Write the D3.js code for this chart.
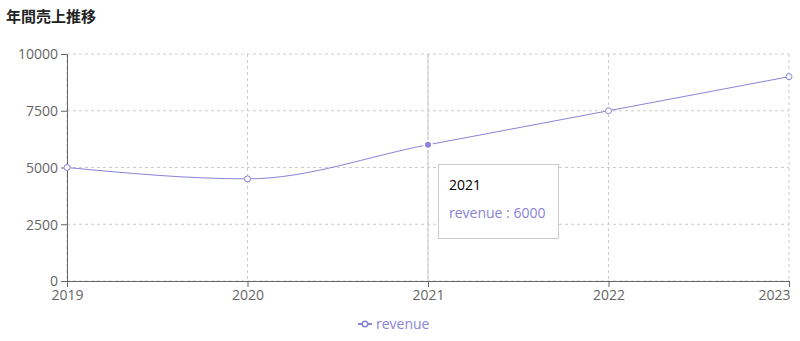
<!doctype html>
<html>
<head>
<meta charset="utf-8">
<title>年間売上推移</title>
<script src="https://cdn.jsdelivr.net/npm/d3@7"></script>
<style>
body { margin: 0; background: #fff; font-family: "Open Sans", "Noto Sans", sans-serif; }
#chart { position: relative; width: 800px; height: 341px; }
.title { position: absolute; left: 6px; top: 5px; font: bold 15px "Noto Sans CJK JP", sans-serif; color: #222; }
.tip { position: absolute; background: #fff; border: 1px solid #ccc; padding: 10px; box-sizing: border-box;
       font-size: 14px; white-space: nowrap; }
.tip .lbl { color: #000; margin-bottom: 9px; }
.tip .item { color: #8884d8; }
</style>
</head>
<body>
<div id="chart">
  <div class="title">年間売上推移</div>
</div>
<script>
var years = ["2019", "2020", "2021", "2022", "2023"];
var revenue = [5000, 4500, 6000, 7500, 9000];
var yTicks = [0, 2500, 5000, 7500, 10000];
var activeIndex = 2;

var margin = { left: 67, right: 11, top: 54, bottom: 60 };
var W = 800, H = 341;
var width = W - margin.left - margin.right,
    height = H - margin.top - margin.bottom;
var color = "#8884d8";

var svg = d3.select("#chart").append("svg").attr("width", W).attr("height", H)
    .style("position", "absolute").style("left", 0).style("top", 0);
var g = svg.append("g").attr("transform", "translate(" + margin.left + "," + margin.top + ")");

var x = d3.scalePoint().domain(years).range([0, width]);
var y = d3.scaleLinear().domain([0, 10000]).range([height, 0]);

// grid
g.append("g").selectAll("line.h").data(yTicks).enter().append("line")
    .attr("x1", 0).attr("x2", width)
    .attr("y1", function(d){ return y(d); }).attr("y2", function(d){ return y(d); })
    .attr("stroke", "#ccc").attr("stroke-dasharray", "3 3");
g.append("g").selectAll("line.v").data(years).enter().append("line")
    .attr("x1", function(d){ return x(d); }).attr("x2", function(d){ return x(d); })
    .attr("y1", 0).attr("y2", height)
    .attr("stroke", "#ccc").attr("stroke-dasharray", "3 3");

// axes
var xAxis = g.append("g").attr("transform", "translate(0," + height + ")")
    .call(d3.axisBottom(x).tickSize(6).tickPadding(3));
var yAxis = g.append("g")
    .call(d3.axisLeft(y).tickValues(yTicks).tickFormat(d3.format("d")).tickSize(6).tickPadding(3));
[xAxis, yAxis].forEach(function(a){
    a.select(".domain").attr("stroke", "#666");
    a.selectAll(".tick line").attr("stroke", "#666");
    a.selectAll(".tick text").attr("fill", "#666").style("font-size", "14px")
        .style("font-family", "'Open Sans', 'Noto Sans', sans-serif");
});
yAxis.selectAll(".tick text").attr("dy", "0.35em");
xAxis.selectAll(".tick text").attr("dy", "0.71em");
// keep the last label inside the picture
xAxis.selectAll(".tick text").filter(function(d){ return d === years[years.length - 1]; })
    .attr("text-anchor", "end").attr("x", 1);

// cursor
g.append("line").attr("x1", x(years[activeIndex])).attr("x2", x(years[activeIndex]))
    .attr("y1", 0).attr("y2", height).attr("stroke", "#ccc");

// line
var line = d3.line().x(function(d, i){ return x(years[i]); }).y(function(d){ return y(d); })
    .curve(d3.curveMonotoneX);
g.append("path").datum(revenue).attr("d", line).attr("fill", "none")
    .attr("stroke", color).attr("stroke-width", 1);

g.selectAll("circle.dot").data(revenue).enter().append("circle")
    .attr("cx", function(d, i){ return x(years[i]); }).attr("cy", function(d){ return y(d); })
    .attr("r", 3).attr("fill", "#fff").attr("stroke", color);

g.append("circle").attr("cx", x(years[activeIndex])).attr("cy", y(revenue[activeIndex]))
    .attr("r", 4).attr("fill", color).attr("stroke", "#fff").attr("stroke-width", 2);

// legend
var lg = svg.append("g").attr("transform", "translate(358," + 324 + ")");
lg.append("line").attr("x1", 0).attr("x2", 14).attr("y1", 0).attr("y2", 0)
    .attr("stroke", color).attr("stroke-width", 2);
lg.append("circle").attr("cx", 7).attr("cy", 0).attr("r", 2.8).attr("fill", "#fff")
    .attr("stroke", color).attr("stroke-width", 1.5);
lg.append("text").attr("x", 18).attr("y", 0).attr("dy", "0.35em").attr("fill", color)
    .style("font-size", "14px").text("revenue");

// tooltip
var tip = d3.select("#chart").append("div").attr("class", "tip")
    .style("left", (margin.left + x(years[activeIndex]) + 10) + "px")
    .style("top", "164px").style("width", "121px").style("height", "75px");
tip.append("div").attr("class", "lbl").text(years[activeIndex]);
tip.append("div").attr("class", "item").text("revenue : " + revenue[activeIndex]);
</script>
</body>
</html>
